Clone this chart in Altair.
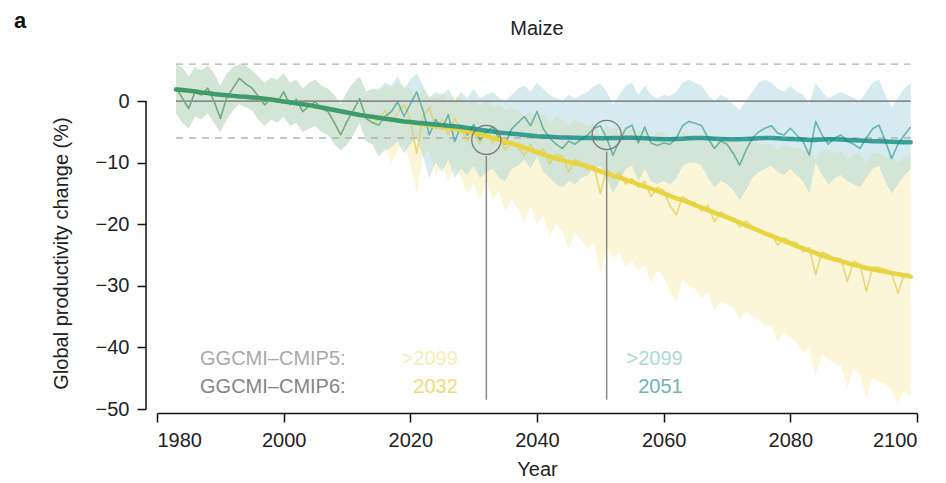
import altair as alt
import pandas as pd

FONT = "Liberation Sans"

# ---------------- data ----------------
hist_years = list(range(1983, 2015))
fut_years = list(range(2015, 2100))

hist_smooth = [1.9, 1.8, 1.7, 1.55, 1.4, 1.3, 1.15, 1.05, 0.95, 0.85,
               0.75, 0.7, 0.6, 0.5, 0.4, 0.25, 0.1, -0.05, -0.2, -0.35,
               -0.5, -0.65, -0.85, -1.05, -1.25, -1.45, -1.65, -1.85, -2.05, -2.25,
               -2.4, -2.55]
hist_annual = [2.1, 0.5, -1.2, 1.5, 1.0, 2.1, 0.0, -2.8, 0.5, 2.1,
               3.7, 2.8, 2.1, 0.8, -0.6, 0.4, -0.2, 1.5, -0.6, 0.3,
               -1.7, -0.8, -0.1, -1.2, -1.7, -3.5, -5.5, -3.3, -1.5, 0.4,
               -2.8, -3.5]
hist_hi = [6.0, 5.5, 4.0, 5.5, 5.0, 5.8, 4.5, 2.5, 4.5, 5.5,
           6.0, 5.8, 5.0, 4.0, 3.0, 3.8, 3.5, 4.5, 3.0, 3.5,
           2.0, 3.0, 3.5, 2.5, 2.0, 1.0, -0.5, 1.5, 3.0, 4.0,
           1.5, 2.0]
hist_lo = [-2.0, -3.5, -4.5, -2.5, -3.0, -2.0, -3.5, -5.0, -3.0, -1.5,
           -0.5, -1.0, -1.5, -3.0, -4.0, -3.0, -3.5, -2.5, -4.0, -3.5,
           -5.0, -4.5, -4.0, -5.0, -5.5, -7.0, -8.0, -7.0, -5.5, -3.5,
           -6.5, -7.0]

# SSP1-2.6 (teal)
teal_smooth = [-2.7, -2.85, -3.0, -3.15, -3.3, -3.4, -3.5, -3.6, -3.7, -3.8,
               -3.9, -4.0, -4.1, -4.2, -4.35, -4.5, -4.65, -4.8, -4.95, -5.1,
               -5.2, -5.3, -5.4, -5.5, -5.6, -5.7, -5.75, -5.8, -5.85, -5.9,
               -5.9, -5.95, -6.0, -6.0, -6.0, -6.05, -6.05, -6.0, -6.0, -5.95,
               -5.95, -6.0, -6.05, -6.1, -6.15, -6.2, -6.2, -6.15, -6.1, -6.05,
               -6.0, -6.0, -6.05, -6.1, -6.15, -6.2, -6.2, -6.2, -6.15, -6.1,
               -6.05, -6.0, -6.0, -6.05, -6.1, -6.15, -6.2, -6.25, -6.3, -6.3,
               -6.25, -6.2, -6.2, -6.25, -6.3, -6.35, -6.4, -6.45, -6.5, -6.5,
               -6.55, -6.6, -6.65, -6.7, -6.7]
teal_annual = [-3.9, -2.5, -1.7, -0.1, -2.5, -0.5, 1.5, -1.5, -5.5, -3.0,
               -4.5, -2.2, -6.6, -4.0, -5.5, -3.8, -6.3, -5.0, -4.2, -6.0,
               -7.0, -4.5, -3.5, -2.5, -4.0, -1.7, -4.5, -6.0, -7.0, -7.7,
               -6.5, -7.0, -6.2, -5.5, -4.4, -4.0, -6.0, -8.8, -6.5, -4.5,
               -3.9, -6.8, -4.2, -6.8, -7.2, -6.8, -7.0, -6.0, -4.0, -3.3,
               -3.6, -4.0, -6.0, -7.7, -6.5, -7.0, -8.5, -10.4, -8.0, -6.0,
               -5.0, -4.4, -4.0, -5.2, -5.5, -4.4, -5.5, -6.5, -8.8, -3.3,
               -5.5, -7.0, -6.0, -5.5, -6.5, -7.0, -7.7, -6.0, -4.5, -3.9,
               -6.5, -9.3, -7.0, -5.5, -4.2]
teal_hi = [2.0, 3.0, 2.5, 4.0, 2.0, 3.5, 4.5, 2.5, 0.5, 1.5,
           1.0, 2.0, 0.0, 1.5, 0.5, 2.0, 0.5, 1.0, 1.5, 0.5,
           0.0, 1.0, 2.0, 2.5, 1.5, 3.0, 2.0, 1.0, 0.5, 0.0,
           1.0, 0.5, 1.0, 1.5, 2.5, 2.8, 1.5, -0.5, 1.0, 2.5,
           3.0, 1.0, 2.5, 1.0, 0.5, 1.0, 0.8, 1.5, 3.0, 3.5,
           3.0, 2.5, 1.0, 0.0, 1.0, 0.5, -0.5, -1.5, 0.0, 1.5,
           3.0, 3.5, 3.0, 2.0, 1.5, 2.5, 1.5, 1.0, -0.5, 3.0,
           1.5, 0.5, 1.0, 1.5, 1.0, 0.5, 0.0, 1.5, 3.0, 3.5,
           1.0, -1.0, 0.5, 2.0, 3.0]
teal_lo = [-9.0, -8.0, -7.5, -6.5, -8.5, -7.0, -6.0, -9.0, -12.5, -10.0,
           -11.5, -9.5, -12.5, -11.0, -12.0, -10.5, -12.5, -11.5, -11.0, -12.5,
           -13.0, -11.0, -10.5, -9.5, -11.0, -9.0, -11.5, -12.5, -13.5, -14.0,
           -13.0, -13.5, -12.5, -12.0, -11.0, -10.5, -12.5, -15.0, -13.0, -11.0,
           -10.5, -13.0, -11.0, -13.0, -13.5, -13.0, -13.5, -12.5, -10.5, -10.0,
           -10.0, -10.5, -12.5, -14.0, -13.0, -13.5, -14.5, -16.0, -14.5, -12.5,
           -11.5, -11.0, -10.5, -11.5, -12.0, -11.0, -12.0, -13.0, -15.0, -10.0,
           -12.0, -13.5, -12.5, -12.0, -13.0, -13.5, -14.0, -12.5, -11.0, -10.5,
           -13.0, -15.0, -13.5, -12.0, -11.0]

# SSP5-8.5 (yellow)
yellow_smooth = [-2.7, -2.85, -3.0, -3.15, -3.3, -3.45, -3.6, -3.75, -3.9, -4.05,
                 -4.2, -4.35, -4.5, -4.7, -4.9, -5.15, -5.4, -5.7, -6.0, -6.3,
                 -6.6, -6.9, -7.2, -7.55, -7.95, -8.3, -8.65, -9.0, -9.3, -9.6,
                 -9.9, -10.1, -10.3, -10.6, -11.0, -11.4, -11.8, -12.1, -12.4, -12.8,
                 -13.1, -13.5, -13.9, -14.2, -14.6, -15.0, -15.4, -15.8, -16.1, -16.5,
                 -16.9, -17.3, -17.7, -18.1, -18.5, -18.9, -19.3, -19.7, -20.2, -20.6,
                 -21.0, -21.5, -21.9, -22.3, -22.7, -23.1, -23.5, -23.9, -24.3, -24.7,
                 -25.1, -25.4, -25.7, -26.0, -26.3, -26.6, -26.8, -27.1, -27.3, -27.5,
                 -27.7, -27.9, -28.1, -28.3, -28.5]
yellow_annual = [-3.0, -1.5, -3.5, -2.0, -0.5, -3.0, -8.5, -2.5, -1.0, -4.5,
                 -3.0, -5.5, -2.8, -4.5, -6.5, -5.0, -7.0, -4.5, -6.8, -5.5,
                 -8.0, -6.5, -7.5, -8.8, -7.0, -8.5, -7.8, -10.2, -8.6, -9.0,
                 -11.5, -9.5, -10.0, -11.2, -10.5, -15.0, -11.0, -12.5, -11.5, -13.5,
                 -12.6, -14.0, -13.0, -15.5, -14.0, -14.5, -17.0, -18.5, -15.5, -16.2,
                 -16.5, -17.8, -16.9, -19.6, -18.0, -18.6, -19.0, -20.5, -19.5, -20.4,
                 -20.8, -21.3, -21.5, -23.4, -22.2, -22.8, -23.0, -24.5, -23.8, -28.2,
                 -24.5, -25.0, -25.5, -25.6, -29.3, -26.0, -26.5, -30.9, -27.0, -27.0,
                 -27.4, -28.0, -31.2, -28.0, -28.2]
yellow_hi = [1.5, 2.5, 2.0, 3.0, 2.5, 2.0, 0.5, 2.0, 1.0, 0.5,
             1.5, 0.0, 1.0, 0.5, -0.5, 0.5, -1.0, 0.5, -1.0, -0.5,
             -1.5, -1.0, -1.5, -2.5, -1.5, -2.5, -2.0, -3.5, -2.5, -3.0,
             -4.0, -3.0, -3.5, -4.0, -3.5, -5.5, -4.0, -4.5, -4.0, -5.0,
             -4.5, -5.0, -4.5, -6.0, -5.0, -5.0, -6.0, -6.5, -5.0, -5.5,
             -5.5, -6.0, -5.5, -7.0, -6.0, -6.0, -6.5, -7.0, -6.5, -6.5,
             -7.0, -7.0, -7.0, -8.0, -7.0, -7.5, -7.5, -8.0, -7.5, -9.5,
             -8.0, -8.0, -8.5, -8.0, -9.5, -8.5, -8.5, -10.0, -8.5, -8.5,
             -9.0, -9.0, -10.0, -9.0, -9.0]
yellow_lo = [-9.0, -7.5, -10.0, -8.0, -7.0, -10.0, -15.0, -9.0, -8.0, -12.0,
             -10.5, -13.0, -10.5, -12.5, -15.0, -13.5, -16.0, -13.0, -16.0, -14.5,
             -18.0, -16.0, -17.5, -19.5, -17.0, -20.0, -18.5, -22.0, -20.0, -21.0,
             -24.0, -21.5, -22.5, -24.0, -23.0, -28.0, -23.5, -25.5, -24.5, -27.0,
             -26.0, -27.5, -26.5, -29.5, -27.5, -28.5, -31.0, -32.5, -29.0, -30.0,
             -30.5, -32.0, -31.0, -34.0, -32.5, -33.0, -33.5, -35.5, -34.0, -35.0,
             -35.5, -36.5, -36.5, -39.0, -37.5, -38.5, -39.0, -41.0, -40.0, -44.5,
             -41.0, -42.0, -42.5, -43.0, -46.5, -43.5, -44.5, -48.0, -45.0, -45.5,
             -46.0, -47.0, -49.0, -47.0, -48.0]

# threshold / reference lines
ref_start, ref_end = 1983, 2099
threshold_levels = [6, -6]
zero_level = [0]

# time of emergence markers (CMIP6)
toe_years = [2032, 2051]
toe_values = [-6.3, -5.5]
toe_line_top = [-8.9, -8.2]
toe_line_bottom = [-48.5, -48.5]

# annotation texts
row_labels = ["GGCMI\u2013CMIP5:", "GGCMI\u2013CMIP6:"]
row_label_colors = ["#a9a9a9", "#858585"]
row_y = [-42.9, -47.4]
row_label_x = 1986.8
toe_text_ssp585 = [">2099", "2032"]
toe_text_ssp126 = [">2099", "2051"]
toe_text_ssp585_colors = ["#f6eeb8", "#ecdd76"]
toe_text_ssp126_colors = ["#acd9d8", "#72b3ad"]
toe_text_x = [2027.5, 2063.0]

chart_title = "Maize"
panel_letter = "a"

x_ticks = [1980, 2000, 2020, 2040, 2060, 2080, 2100]
y_ticks = [0, -10, -20, -30, -40, -50]

# ---------------- tables ----------------
years = hist_years + fut_years
df_y = pd.DataFrame({"year": years,
                     "smooth": hist_smooth + yellow_smooth,
                     "annual": hist_annual + yellow_annual,
                     "hi": hist_hi + yellow_hi,
                     "lo": hist_lo + yellow_lo})
df_t = pd.DataFrame({"year": years,
                     "smooth": hist_smooth + teal_smooth,
                     "annual": hist_annual + teal_annual,
                     "hi": hist_hi + teal_hi,
                     "lo": hist_lo + teal_lo})
df_thr = pd.DataFrame({"x": [ref_start] * len(threshold_levels),
                       "x2": [ref_end] * len(threshold_levels),
                       "y": threshold_levels})
df_zero = pd.DataFrame({"x": [ref_start], "x2": [ref_end], "y": zero_level})
df_toe = pd.DataFrame({"x": toe_years, "y": toe_values,
                       "top": toe_line_top, "bottom": toe_line_bottom})
df_yaxis = pd.DataFrame({"y": [y_ticks[0]], "y2": [y_ticks[-1]]})
df_rowlab = pd.DataFrame({"x": [row_label_x] * 2, "y": row_y,
                          "t": row_labels, "c": row_label_colors})
df_toetext = pd.DataFrame({"x": [toe_text_x[0]] * 2 + [toe_text_x[1]] * 2,
                           "y": row_y + row_y,
                           "t": toe_text_ssp585 + toe_text_ssp126,
                           "c": toe_text_ssp585_colors + toe_text_ssp126_colors})
df_panel = pd.DataFrame({"t": [panel_letter]})
df_title = pd.DataFrame({"t": [chart_title]})

# ---------------- encodings ----------------
xscale = alt.Scale(domain=[1980, 2100], nice=False, zero=False)
yscale = alt.Scale(domain=[-50, 6.35], nice=False, zero=False)

xaxis = alt.Axis(values=x_ticks, format="d", title="Year", offset=4,
                 tickSize=9, labelPadding=8, titlePadding=9,
                 domainWidth=1.5, tickWidth=1.5, domainColor="#111",
                 tickColor="#111", grid=False)
yaxis = alt.Axis(values=y_ticks, title="Global productivity change (%)",
                 offset=11, tickSize=9, labelPadding=8, titlePadding=24,
                 domain=False, tickWidth=1.5, tickColor="#111", grid=False,
                 titleY=191,
                 labelExpr="replace(datum.label, '-', '\u2212')")


def X(f):
    return alt.X(f"{f}:Q", scale=xscale, axis=xaxis)


def Y(f):
    return alt.Y(f"{f}:Q", scale=yscale, axis=yaxis)


band_y = alt.Chart(df_y).mark_area(color="#f4dc66", opacity=0.25).encode(
    x=X("year"), y=Y("lo"), y2="hi")
band_t = alt.Chart(df_t).mark_area(color="#8cc8d4", opacity=0.37).encode(
    x=X("year"), y=Y("lo"), y2="hi")

thr = alt.Chart(df_thr).mark_rule(color="#b3b3b3", strokeWidth=1.4,
                                  strokeDash=[7, 6]).encode(
    x=X("x"), x2="x2", y=Y("y"))
zero = alt.Chart(df_zero).mark_rule(color="#8c8c8c", strokeWidth=1.6).encode(
    x=X("x"), x2="x2", y=Y("y"))

thin_y = alt.Chart(df_y).mark_line(color="#e3d062", strokeWidth=1.6,
                                   opacity=0.8, strokeJoin="round").encode(
    x=X("year"), y=Y("annual"))
thin_t = alt.Chart(df_t).mark_line(color="#3f9c92", strokeWidth=1.6,
                                   opacity=0.7, strokeJoin="round").encode(
    x=X("year"), y=Y("annual"))
thick_y = alt.Chart(df_y).mark_line(color="#e8d440", strokeWidth=4.5,
                                    strokeCap="round", strokeJoin="round").encode(
    x=X("year"), y=Y("smooth"))
thick_t = alt.Chart(df_t).mark_line(color="#0d8a80", strokeWidth=4.5, opacity=0.78,
                                    strokeCap="round", strokeJoin="round").encode(
    x=X("year"), y=Y("smooth"))

circles = alt.Chart(df_toe).mark_point(shape="circle", size=850, filled=False,
                                       stroke="#7a7a7a", strokeWidth=1.3,
                                       opacity=1).encode(
    x=X("x"), y=Y("y"))
vlines = alt.Chart(df_toe).mark_rule(color="#8a8a8a", strokeWidth=1.5).encode(
    x=X("x"), y=Y("top"), y2="bottom")

yaxis_line = alt.Chart(df_yaxis).mark_rule(color="#111", strokeWidth=1.5).encode(
    x=alt.value(-11), y=Y("y"), y2="y2")

rowlab = alt.Chart(df_rowlab).mark_text(align="left", baseline="alphabetic",
                                        font=FONT, fontSize=20).encode(
    x=X("x"), y=Y("y"), text="t:N", color=alt.Color("c:N", scale=None))
toetext = alt.Chart(df_toetext).mark_text(align="right", baseline="alphabetic",
                                          font=FONT, fontSize=20).encode(
    x=X("x"), y=Y("y"), text="t:N", color=alt.Color("c:N", scale=None))

panel = alt.Chart(df_panel).mark_text(align="left", baseline="alphabetic",
                                      font=FONT, fontSize=22, fontWeight="bold",
                                      color="#111").encode(
    x=alt.value(-143), y=alt.value(-34), text="t:N")
title = alt.Chart(df_title).mark_text(align="center", baseline="alphabetic",
                                      font=FONT, fontSize=20, color="#222").encode(
    x=alt.value(380), y=alt.value(-27), text="t:N")

chart = alt.layer(
    band_y, band_t, thr, zero, thin_y, thin_t, thick_y, thick_t,
    circles, vlines, yaxis_line, rowlab, toetext, panel, title
).properties(
    width=760, height=347,
    padding={"left": 149, "top": 54, "right": 20, "bottom": 74},
    autosize=alt.AutoSizeParams(type="none"),
).configure_view(stroke=None).configure_axis(
    labelFont=FONT, titleFont=FONT, labelFontSize=20, titleFontSize=20,
    labelColor="#222", titleColor="#222", titleFontWeight="normal"
)

chart.save("out.html", embed_options={"renderer": "svg", "actions": False})
